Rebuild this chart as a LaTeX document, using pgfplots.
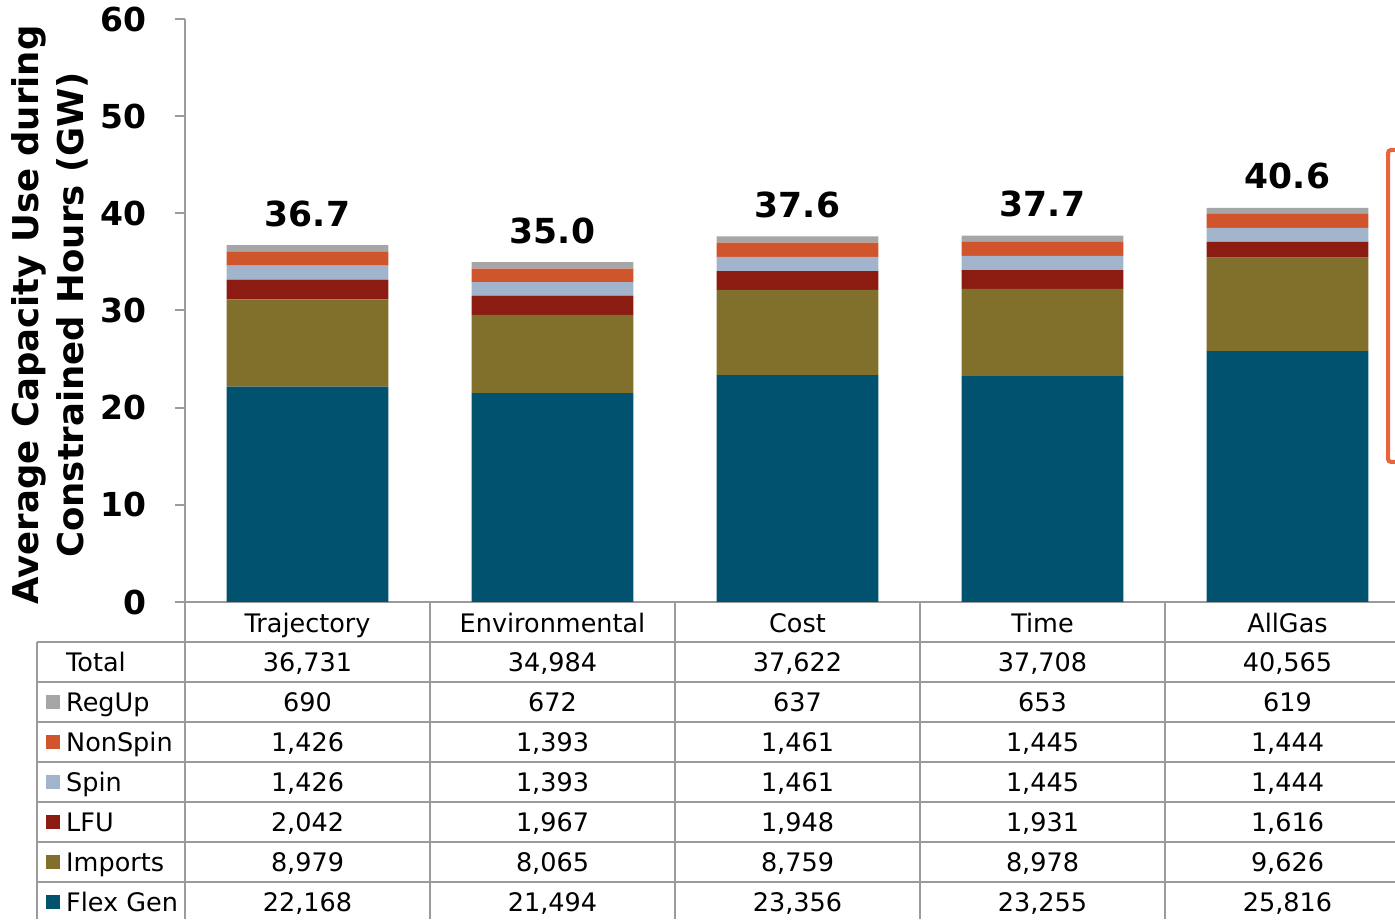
\documentclass[border=0pt]{standalone}
\usepackage{fontspec}
\setmainfont{DejaVu Sans}
\usepackage{pgfplots}
\pgfplotsset{compat=1.18}
\definecolor{cFlex}{RGB}{0,82,110}
\definecolor{cImp}{RGB}{129,111,44}
\definecolor{cLFU}{RGB}{140,28,18}
\definecolor{cSpin}{RGB}{162,180,204}
\definecolor{cNon}{RGB}{208,84,44}
\definecolor{cReg}{RGB}{166,166,166}
\definecolor{cLine}{RGB}{155,155,155}
\definecolor{cBr}{RGB}{232,100,58}
\begin{document}
\begin{tikzpicture}[x=1pt,y=1pt]
\begin{axis}[
  at={(185pt,317pt)}, anchor=south west,
  scale only axis, width=1225pt, height=583pt,
  ybar stacked, bar width=0.661,
  xmin=-0.5, xmax=4.5, ymin=0, ymax=60,
  xtick=\empty, ytick={0,10,...,60},
  axis lines*=left,
  axis line style={cLine, line width=2pt},
  tick style={cLine, line width=2pt},
  major tick length=10pt, tick align=outside,
  /pgf/number format/assume math mode=true,
  yticklabel style={font=\fontsize{33}{33}\selectfont\bfseries, inner sep=0pt, anchor=east, xshift=-28pt},
  clip=false,
]
\addplot[fill=cFlex, draw=none] coordinates {(0,22.168) (1,21.494) (2,23.356) (3,23.255) (4,25.816)};
\addplot[fill=cImp, draw=none] coordinates {(0,8.979) (1,8.065) (2,8.759) (3,8.978) (4,9.626)};
\addplot[fill=cLFU, draw=none] coordinates {(0,2.042) (1,1.967) (2,1.948) (3,1.931) (4,1.616)};
\addplot[fill=cSpin, draw=none] coordinates {(0,1.426) (1,1.393) (2,1.461) (3,1.445) (4,1.444)};
\addplot[fill=cNon, draw=none] coordinates {(0,1.426) (1,1.393) (2,1.461) (3,1.445) (4,1.444)};
\addplot[fill=cReg, draw=none, point meta=explicit,
  nodes near coords={\pgfmathprintnumber[fixed,fixed zerofill,precision=1]{\pgfplotspointmeta}},
  nodes near coords style={font=\fontsize{34.5}{34.5}\selectfont\bfseries, anchor=base, inner sep=0pt, yshift=22pt, text=black}]
  coordinates {(0,0.690) [36.7] (1,0.672) [35.0] (2,0.637) [37.6] (3,0.653) [37.7] (4,0.619) [40.6]};
\end{axis}
% y label
\node[rotate=90, align=center, font=\fontsize{35.5}{45}\selectfont\bfseries] at (50,604)
  {Average Capacity Use during\\Constrained Hours (GW)};
% table lines
\begin{scope}[cLine, line width=2pt]
  \foreach \yy in {277,237,197,157,117,77,37} \draw (37,\yy) -- (1410,\yy);
  \draw (37,0) -- (37,277);
  \foreach \xx in {185,430,675,920,1165} \draw (\xx,0) -- (\xx,317);
\end{scope}
% header
\begin{scope}[font=\fontsize{25.5}{25.5}\selectfont]
  \foreach \xx/\nm in {307.5/Trajectory,552.5/Environmental,797.5/Cost,1042.5/Time,1287.5/AllGas}
    \node[anchor=base, inner sep=0pt] at (\xx,286.5) {\nm};
  % row labels
  \node[anchor=base west, inner sep=0pt] at (66,247.5) {Total};
  \node[anchor=base west, inner sep=0pt] at (66,207.5) {RegUp};
  \node[anchor=base west, inner sep=0pt] at (66,167.5) {NonSpin};
  \node[anchor=base west, inner sep=0pt] at (66,127.5) {Spin};
  \node[anchor=base west, inner sep=0pt] at (66,87.5) {LFU};
  \node[anchor=base west, inner sep=0pt] at (66,47.5) {Imports};
  \node[anchor=base west, inner sep=0pt] at (66,7.5) {Flex Gen};
  \fill[cReg]  (46,210) rectangle (60,224);
  \fill[cNon]  (46,170) rectangle (60,184);
  \fill[cSpin] (46,130) rectangle (60,144);
  \fill[cLFU]  (46,90) rectangle (60,104);
  \fill[cImp]  (46,50) rectangle (60,64);
  \fill[cFlex] (46,10) rectangle (60,24);
  % values
  \foreach \xx/\a/\b/\c/\d/\e/\f/\g in {
    307.5/36{,}731/690/1{,}426/1{,}426/2{,}042/8{,}979/22{,}168,
    552.5/34{,}984/672/1{,}393/1{,}393/1{,}967/8{,}065/21{,}494,
    797.5/37{,}622/637/1{,}461/1{,}461/1{,}948/8{,}759/23{,}356,
    1042.5/37{,}708/653/1{,}445/1{,}445/1{,}931/8{,}978/23{,}255,
    1287.5/40{,}565/619/1{,}444/1{,}444/1{,}616/9{,}626/25{,}816}{
    \node[anchor=base, inner sep=0pt] at (\xx,247.5) {\a};
    \node[anchor=base, inner sep=0pt] at (\xx,207.5) {\b};
    \node[anchor=base, inner sep=0pt] at (\xx,167.5) {\c};
    \node[anchor=base, inner sep=0pt] at (\xx,127.5) {\d};
    \node[anchor=base, inner sep=0pt] at (\xx,87.5) {\e};
    \node[anchor=base, inner sep=0pt] at (\xx,47.5) {\f};
    \node[anchor=base, inner sep=0pt] at (\xx,7.5) {\g};
  }
\end{scope}
% bracket
\draw[cBr, line width=4pt, rounded corners=3pt] (1402,769) -- (1388,769) -- (1388,457) -- (1402,457);
\pgfresetboundingbox
\useasboundingbox (0,0) rectangle (1395,919);
\end{tikzpicture}
\end{document}
